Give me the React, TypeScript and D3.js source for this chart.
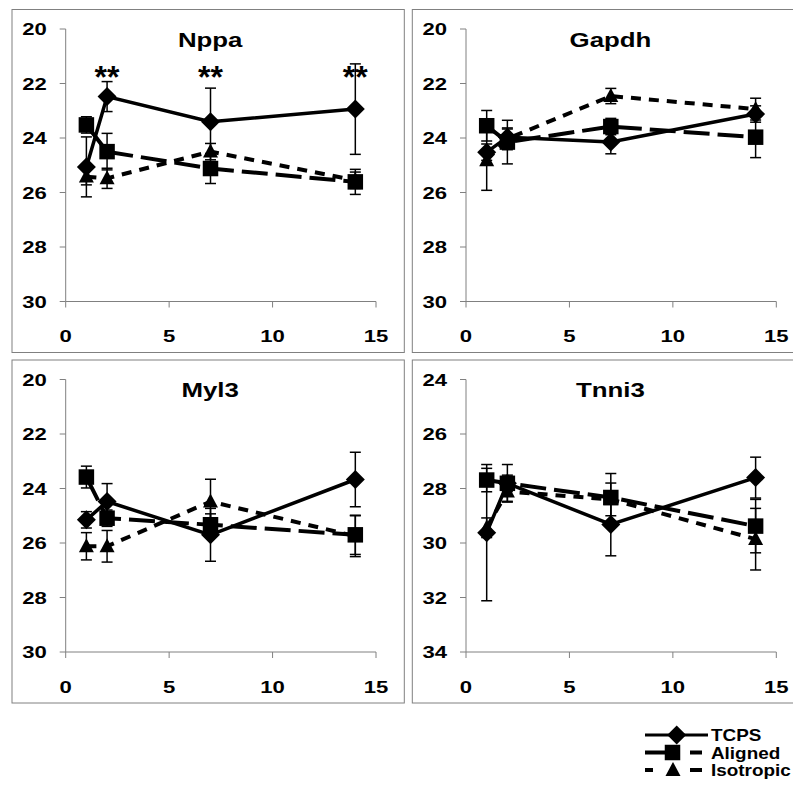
import React from "react";
import * as d3 from "d3";

const days = [1, 2, 7, 14];
const seriesNames = ["TCPS", "Aligned", "Isotropic"];
const genes = ["Nppa", "Gapdh", "Myl3", "Tnni3"];
const yDomains: [number, number][] = [[20, 30], [20, 30], [20, 30], [24, 34]];
const yTicks = [[20, 22, 24, 26, 28, 30], [20, 22, 24, 26, 28, 30], [20, 22, 24, 26, 28, 30], [24, 26, 28, 30, 32, 34]];
const xTicks = [0, 5, 10, 15];

// mean values per gene: [TCPS, Aligned, Isotropic]
const nppaMeans = [[25.06, 22.48, 23.4, 22.94], [23.52, 24.5, 25.12, 25.61], [25.42, 25.48, 24.5, 25.55]];
const nppaErr = [[1.1, 0.55, 1.23, 1.66], [0.3, 0.67, 0.55, 0.46], [0.3, 0.37, 0.3, 0.3]];
const gapdhMeans = [[24.52, 23.97, 24.15, 23.12], [23.55, 24.15, 23.58, 23.97], [24.82, 24.03, 22.46, 22.94]];
const gapdhErr = [[0.3, 0.3, 0.43, 0.3], [0.56, 0.8, 0.3, 0.75], [1.1, 0.4, 0.28, 0.4]];
const myl3Means = [[25.15, 24.48, 25.7, 23.67], [23.58, 25.09, 25.33, 25.7], [26.12, 26.12, 24.48, 25.75]];
const myl3Err = [[0.3, 0.66, 0.97, 1.0], [0.4, 0.3, 0.4, 0.72], [0.5, 0.58, 0.82, 0.75]];
const tnni3Means = [[29.62, 27.81, 29.32, 27.6], [27.69, 27.81, 28.33, 29.38], [29.44, 28.11, 28.4, 29.86]];
const tnni3Err = [[2.5, 0.3, 1.15, 0.75], [0.43, 0.69, 0.88, 0.98], [0.36, 0.36, 0.6, 1.13]];

const allMeans = [nppaMeans, gapdhMeans, myl3Means, tnni3Means];
const allErr = [nppaErr, gapdhErr, myl3Err, tnni3Err];
const nppaStars = [2, 7, 14];

const FONT = "'Liberation Sans', Arial, Helvetica, sans-serif";
const frames = [
  { x: 12, y: 9.5 },
  { x: 412.3, y: 9.5 },
  { x: 12, y: 360 },
  { x: 412.3, y: 360 },
];
const FW = 392.3;
const FH = 343;
const PL = 53.7, PR = 364, PT = 19.5, PB = 292;

const dashes = ["none", "26,8", "10,8"];

function WText({ x, y, anchor, size, sx, children }: { x: number; y: number; anchor: string; size: number; sx: number; children: React.ReactNode }) {
  return (
    <text transform={`translate(${x},${y}) scale(${sx},1)`} textAnchor={anchor} fontFamily={FONT} fontWeight="bold" fontSize={size} fill="#000">
      {children}
    </text>
  );
}

function Marker({ kind, x, y }: { kind: number; x: number; y: number }) {
  if (kind === 0) {
    const r = 9.5;
    return <path d={`M${x},${y - r}L${x + r},${y}L${x},${y + r}L${x - r},${y}Z`} fill="#000" />;
  }
  if (kind === 1) {
    const s = 15.5;
    return <rect x={x - s / 2} y={y - s / 2} width={s} height={s} fill="#000" />;
  }
  const w = 15, h = 14;
  return <path d={`M${x},${y - h * 0.58}L${x + w / 2},${y + h * 0.42}L${x - w / 2},${y + h * 0.42}Z`} fill="#000" />;
}

function Panel({ i }: { i: number }) {
  const f = frames[i];
  const x = d3.scaleLinear().domain([0, 15]).range([f.x + PL, f.x + PR]);
  const y = d3.scaleLinear().domain(yDomains[i]).range([f.y + PT, f.y + PB]);
  const line = d3.line<number>().x((_, k) => x(days[k])).y((v) => y(v));
  const means = allMeans[i];
  const errs = allErr[i];
  const y0 = y.range()[0], y1 = y.range()[1];
  return (
    <g>
      <rect x={f.x} y={f.y} width={FW} height={FH} fill="#fff" stroke="#808080" strokeWidth={1} />
      <line x1={x(0)} x2={x(0)} y1={y0} y2={y1} stroke="#808080" strokeWidth={1} />
      <line x1={x(0)} x2={x(15)} y1={y1} y2={y1} stroke="#808080" strokeWidth={1} />
      {yTicks[i].map((t) => (
        <g key={"y" + t}>
          <line x1={x(0) - 6} x2={x(0)} y1={y(t)} y2={y(t)} stroke="#808080" strokeWidth={1} />
          <WText x={x(0) - 19} y={y(t) + 6.2} anchor="end" size={17} sx={1.3}>{t}</WText>
        </g>
      ))}
      {xTicks.map((t) => (
        <g key={"x" + t}>
          <line x1={x(t)} x2={x(t)} y1={y1} y2={y1 + 6} stroke="#808080" strokeWidth={1} />
          <WText x={x(t)} y={y1 + 40.5} anchor="middle" size={17} sx={1.3}>{t}</WText>
        </g>
      ))}
      <WText x={f.x + FW / 2 + 2} y={f.y + 37} anchor="middle" size={21} sx={1.23}>{genes[i]}</WText>
      {means.map((vals, s) => (
        <g key={"s" + s}>
          <path d={line(vals) || ""} fill="none" stroke="#000" strokeWidth={s === 0 ? 3.5 : 4} strokeDasharray={dashes[s]} />
          {vals.map((v, k) => {
            const e = errs[s][k];
            const cx = x(days[k]);
            return (
              <g key={k}>
                <line x1={cx} x2={cx} y1={y(v - e)} y2={y(v + e)} stroke="#000" strokeWidth={1.5} />
                <line x1={cx - 5.5} x2={cx + 5.5} y1={y(v - e)} y2={y(v - e)} stroke="#000" strokeWidth={1.5} />
                <line x1={cx - 5.5} x2={cx + 5.5} y1={y(v + e)} y2={y(v + e)} stroke="#000" strokeWidth={1.5} />
              </g>
            );
          })}
          {vals.map((v, k) => (
            <Marker key={"m" + k} kind={s} x={x(days[k])} y={y(v)} />
          ))}
        </g>
      ))}
      {i === 0 && nppaStars.map((d) => (
        <text key={"st" + d} x={x(d)} y={f.y + 78} textAnchor="middle" fontFamily={FONT} fontWeight="bold" fontSize={32} fill="#000">**</text>
      ))}
    </g>
  );
}

function Legend() {
  const lx0 = 645, lx1 = 708;
  const ys = [735, 752.5, 770];
  const mx = [676.7, 672.5, 673];
  const legDash = ["none", "27,18,12,100", "8,37,12,100"];
  return (
    <g>
      {seriesNames.map((n, s) => (
        <g key={n}>
          <line x1={lx0} x2={lx1} y1={ys[s]} y2={ys[s]} stroke="#000" strokeWidth={s === 0 ? 3 : 4} strokeDasharray={legDash[s]} />
          <Marker kind={s} x={mx[s]} y={ys[s]} />
          <WText x={711} y={ys[s] + 6} anchor="start" size={16} sx={1.18}>{n}</WText>
        </g>
      ))}
    </g>
  );
}

export default function App() {
  return (
    <svg width={793} height={798} style={{ position: "absolute", left: 0, top: 0, background: "#fff" }}>
      <rect x={0} y={0} width={793} height={798} fill="#fff" />
      {[0, 1, 2, 3].map((i) => (
        <Panel key={i} i={i} />
      ))}
      <Legend />
    </svg>
  );
}
